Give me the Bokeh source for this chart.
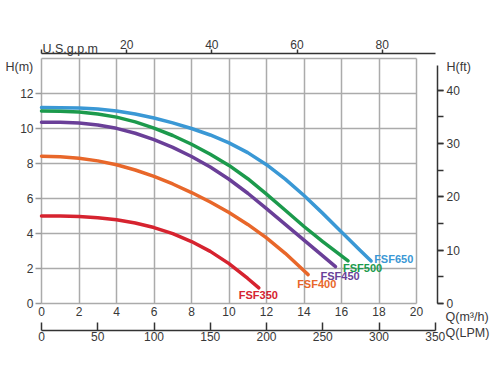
from bokeh.plotting import figure
from bokeh.models import LinearAxis, Range1d, FixedTicker, SingleIntervalTicker, Label, Grid
from bokeh.embed import file_html
from bokeh.resources import INLINE
from bokeh.core.properties import value

# ---- data (flow in m3/h, head in m) ----
Q_650 = [0, 1, 2, 3, 4, 5, 6, 7, 8, 9, 10, 11, 12, 13, 14, 15, 16, 17, 17.58]
H_650 = [11.2, 11.19, 11.17, 11.11, 11.0, 10.83, 10.6, 10.32, 10.0, 9.63, 9.18, 8.62, 7.93, 7.11, 6.17, 5.15, 4.09, 3.03, 2.43]

Q_500 = [0, 1, 2, 3, 4, 5, 6, 7, 8, 9, 10, 11, 12, 13, 14, 15, 16, 16.35]
H_500 = [11.0, 10.99, 10.94, 10.83, 10.65, 10.38, 10.02, 9.6, 9.1, 8.53, 7.89, 7.13, 6.25, 5.33, 4.4, 3.54, 2.72, 2.44]

Q_450 = [0, 1, 2, 3, 4, 5, 6, 7, 8, 9, 10, 11, 12, 13, 14, 15, 15.68]
H_450 = [10.36, 10.35, 10.31, 10.2, 10.01, 9.73, 9.36, 8.92, 8.4, 7.8, 7.1, 6.3, 5.42, 4.52, 3.62, 2.72, 2.11]

Q_400 = [0, 1, 2, 3, 4, 5, 6, 7, 8, 9, 10, 11, 12, 13, 14, 14.22]
H_400 = [8.42, 8.39, 8.3, 8.15, 7.93, 7.63, 7.26, 6.83, 6.34, 5.8, 5.2, 4.52, 3.75, 2.87, 1.87, 1.65]

Q_350 = [0, 1, 2, 3, 4, 5, 6, 7, 8, 9, 10, 11, 11.59]
H_350 = [5.0, 5.0, 4.97, 4.9, 4.78, 4.6, 4.34, 3.99, 3.54, 2.98, 2.28, 1.43, 0.89]

NAMES = ["FSF650", "FSF500", "FSF450", "FSF400", "FSF350"]

Q_TICKS = [0, 2, 4, 6, 8, 10, 12, 14, 16, 18, 20]
HM_TICKS = [0, 2, 4, 6, 8, 10, 12]
GRID_Y = [0, 2, 4, 6, 8, 10, 12, 14]
LPM_TICKS = [0, 50, 100, 150, 200, 250, 300, 350]
GPM_TICKS = [0, 20, 40, 60, 80]

# ---- styles ----
COLORS = ["#3a98d5", "#1c9a4c", "#6a3f98", "#e8672a", "#d6232f"]
OFFSETS = [(3, -2), (-5, 7), (-15, 9), (-11, 9), (-20, 7)]
FONT = "Liberation Sans"
TXT = "#383838"
DARK = "#333333"
GRID = "#ababab"

Q_MAX, H_MAX = 20, 14
LPM_PER_M3H = 1000 / 60
GPM_PER_M3H = 4.402868
FT_PER_M = 1 / 0.3048

# view window (frame covers the whole canvas; chart area is 0..20 x 0..14)
XV = (-2.1867, 24.48)
YV = (-4.1143, 17.314)

p = figure(width=500, height=375, x_range=Range1d(*XV), y_range=Range1d(*YV),
           output_backend="svg", toolbar_location=None,
           min_border=0, min_border_left=0, min_border_right=0, min_border_top=0, min_border_bottom=0)
p.background_fill_color = "white"
p.border_fill_color = "white"
p.outline_line_color = None

p.extra_x_ranges = {"lpm": Range1d(XV[0] * LPM_PER_M3H, XV[1] * LPM_PER_M3H),
                    "gpm": Range1d(XV[0] * GPM_PER_M3H, XV[1] * GPM_PER_M3H)}
p.extra_y_ranges = {"ft": Range1d(YV[0] * FT_PER_M, YV[1] * FT_PER_M)}

# grid
if "cross_bounds" in Grid.properties():
    p.xgrid.ticker = FixedTicker(ticks=Q_TICKS)
    p.ygrid.ticker = FixedTicker(ticks=GRID_Y)
    p.xgrid.bounds = (0, Q_MAX)
    p.ygrid.bounds = (0, H_MAX)
    p.xgrid.cross_bounds = (0, H_MAX)
    p.ygrid.cross_bounds = (0, Q_MAX)
    for g in (p.xgrid[0], p.ygrid[0]):
        g.grid_line_color = GRID
        g.grid_line_width = 1.5
else:
    p.xgrid.visible = False
    p.ygrid.visible = False
    p.segment(x0=Q_TICKS, y0=[0] * len(Q_TICKS), x1=Q_TICKS, y1=[H_MAX] * len(Q_TICKS),
              line_color=GRID, line_width=1.5)
    p.segment(x0=[0] * len(GRID_Y), y0=GRID_Y, x1=[Q_MAX] * len(GRID_Y), y1=GRID_Y,
              line_color=GRID, line_width=1.5)

def style_labels(ax, size="12px"):
    ax.major_label_text_font = FONT
    ax.major_label_text_font_size = size
    ax.major_label_text_color = TXT
    ax.minor_tick_line_color = None

# bottom m3/h axis
xa = p.xaxis[0]
xa.fixed_location = 0
xa.bounds = (0, Q_MAX)
xa.ticker = FixedTicker(ticks=Q_TICKS)
xa.axis_line_color = None
xa.major_tick_line_color = None
xa.major_tick_in = 0
xa.major_tick_out = 0
xa.major_label_standoff = 4
style_labels(xa)

# left m axis
ya = p.yaxis[0]
ya.fixed_location = 0
ya.bounds = (0, 12)
ya.ticker = FixedTicker(ticks=HM_TICKS)
ya.axis_line_color = None
ya.major_tick_line_color = "#999999"
ya.major_tick_line_width = 1.5
ya.major_tick_in = 0
ya.major_tick_out = 6
ya.major_label_standoff = 2
style_labels(ya)

# bottom LPM axis
lpm = LinearAxis(x_range_name="lpm", ticker=FixedTicker(ticks=LPM_TICKS), bounds=(0, 350),
                 fixed_location=-1.543)
lpm.axis_line_color = DARK
lpm.axis_line_width = 1.5
lpm.major_tick_line_color = DARK
lpm.major_tick_line_width = 1.5
lpm.major_tick_in = 8
lpm.major_tick_out = 0
lpm.major_label_standoff = 1
style_labels(lpm)
p.add_layout(lpm, "below")

# top gpm axis
gpm = LinearAxis(x_range_name="gpm", ticker=FixedTicker(ticks=GPM_TICKS),
                 bounds=(0, 21 * GPM_PER_M3H), major_label_overrides={0: ""},
                 fixed_location=14.286)
gpm.axis_line_color = DARK
gpm.axis_line_width = 1.5
gpm.major_tick_line_color = DARK
gpm.major_tick_line_width = 1.5
gpm.major_tick_in = 0
gpm.major_tick_out = 4
gpm.major_label_standoff = 0
style_labels(gpm)
p.add_layout(gpm, "above")

# right ft axis
ft = LinearAxis(y_range_name="ft", ticker=SingleIntervalTicker(interval=10, num_minor_ticks=2),
                bounds=(0, 13.6 * FT_PER_M), fixed_location=21.12)
ft.axis_line_color = DARK
ft.axis_line_width = 1.5
ft.major_tick_line_color = DARK
ft.major_tick_line_width = 1.5
ft.major_tick_in = 0
ft.major_tick_out = 6
ft.minor_tick_in = 0
ft.minor_tick_out = 6
ft.major_label_standoff = 3
style_labels(ft)
ft.minor_tick_line_color = DARK
ft.minor_tick_line_width = 1.5
p.add_layout(ft, "right")

# curves
series = [(Q_650, H_650), (Q_500, H_500), (Q_450, H_450), (Q_400, H_400), (Q_350, H_350)]
for (q, h), name, col, (dx, dy) in zip(series, NAMES, COLORS, OFFSETS):
    p.line(q, h, line_color=col, line_width=3.5, line_cap="round", line_join="round")
    p.text(x=[q[-1]], y=[h[-1]], text=[name], x_offset=dx, y_offset=dy,
           text_font=value(FONT), text_font_style="bold", text_font_size="11px",
           text_color=col, text_align="left", text_baseline="middle")

# axis titles
for txt, x, y in [("H(m)", -1.92, 13.51), ("U.S.g.p.m", 0.05, 14.55), ("H(ft)", 21.6, 13.54),
                  ("Q(m³/h)", 21.55, -0.8), ("Q(LPM)", 21.55, -1.71)]:
    p.add_layout(Label(x=x, y=y, text=txt, text_font=FONT, text_font_size="12.5px",
                       text_color=TXT, text_align="left", text_baseline="alphabetic"))

open("out.html", "w").write(file_html(p, INLINE))
